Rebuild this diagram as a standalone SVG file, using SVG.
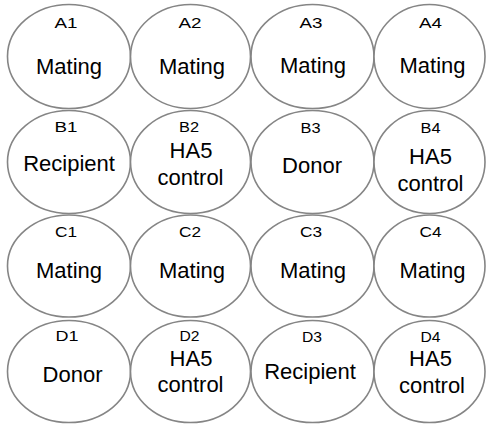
<svg xmlns="http://www.w3.org/2000/svg" width="486" height="424" viewBox="0 0 486 424">
  <style>
    .well { fill: #ffffff; stroke: #858585; stroke-width: 1.6; }
    .id { font-family: "Liberation Sans", Arial, sans-serif; font-size: 14px; fill: #000000; text-anchor: middle; }
    .lbl { font-family: "Liberation Sans", Arial, sans-serif; font-size: 22px; fill: #000000; text-anchor: middle; }
  </style>
  <rect width="486" height="424" fill="#ffffff"/>

  <!-- Row A -->
  <g id="A1">
    <ellipse class="well" cx="69" cy="56.5" rx="61.5" ry="52"/>
    <text class="id" x="66" y="28" textLength="23" lengthAdjust="spacingAndGlyphs">A1</text>
    <text class="lbl" x="69" y="74">Mating</text>
  </g>
  <g id="A2">
    <ellipse class="well" cx="190.5" cy="56.5" rx="60" ry="52"/>
    <text class="id" x="190" y="28" textLength="23" lengthAdjust="spacingAndGlyphs">A2</text>
    <text class="lbl" x="192" y="74">Mating</text>
  </g>
  <g id="A3">
    <ellipse class="well" cx="312.5" cy="56.5" rx="61.5" ry="52"/>
    <text class="id" x="311" y="28" textLength="23" lengthAdjust="spacingAndGlyphs">A3</text>
    <text class="lbl" x="313" y="73">Mating</text>
  </g>
  <g id="A4">
    <ellipse class="well" cx="429.5" cy="56.5" rx="55.5" ry="52"/>
    <text class="id" x="430.5" y="28" textLength="23" lengthAdjust="spacingAndGlyphs">A4</text>
    <text class="lbl" x="432.5" y="73">Mating</text>
  </g>

  <!-- Row B -->
  <g id="B1">
    <ellipse class="well" cx="69" cy="162" rx="61.5" ry="51.5"/>
    <text class="id" x="66" y="132" textLength="23" lengthAdjust="spacingAndGlyphs">B1</text>
    <text class="lbl" x="69" y="170.5">Recipient</text>
  </g>
  <g id="B2">
    <ellipse class="well" cx="190.5" cy="162" rx="60" ry="51.5"/>
    <text class="id" x="189" y="132" textLength="20" lengthAdjust="spacingAndGlyphs">B2</text>
    <text class="lbl" x="191" y="157.5">HA5</text>
    <text class="lbl" x="190.5" y="185">control</text>
  </g>
  <g id="B3">
    <ellipse class="well" cx="312.5" cy="162" rx="61.5" ry="51.5"/>
    <text class="id" x="310.5" y="133" textLength="20" lengthAdjust="spacingAndGlyphs">B3</text>
    <text class="lbl" x="312" y="172.5">Donor</text>
  </g>
  <g id="B4">
    <ellipse class="well" cx="429.5" cy="162" rx="55.5" ry="51.5"/>
    <text class="id" x="430.5" y="133" textLength="20" lengthAdjust="spacingAndGlyphs">B4</text>
    <text class="lbl" x="430.5" y="163.5">HA5</text>
    <text class="lbl" x="430.5" y="190.5">control</text>
  </g>

  <!-- Row C -->
  <g id="C1">
    <ellipse class="well" cx="69" cy="266" rx="61.5" ry="51"/>
    <text class="id" x="66" y="236.5" textLength="22" lengthAdjust="spacingAndGlyphs">C1</text>
    <text class="lbl" x="69" y="278">Mating</text>
  </g>
  <g id="C2">
    <ellipse class="well" cx="190.5" cy="266" rx="60" ry="51"/>
    <text class="id" x="190" y="236.5" textLength="22" lengthAdjust="spacingAndGlyphs">C2</text>
    <text class="lbl" x="192" y="278">Mating</text>
  </g>
  <g id="C3">
    <ellipse class="well" cx="312.5" cy="266" rx="61.5" ry="51"/>
    <text class="id" x="311" y="236.5" textLength="22" lengthAdjust="spacingAndGlyphs">C3</text>
    <text class="lbl" x="313" y="278">Mating</text>
  </g>
  <g id="C4">
    <ellipse class="well" cx="429.5" cy="266" rx="55.5" ry="51"/>
    <text class="id" x="430.5" y="236.5" textLength="22" lengthAdjust="spacingAndGlyphs">C4</text>
    <text class="lbl" x="432.5" y="278">Mating</text>
  </g>

  <!-- Row D -->
  <g id="D1">
    <ellipse class="well" cx="69" cy="371.5" rx="61.5" ry="51"/>
    <text class="id" x="67" y="341" textLength="23" lengthAdjust="spacingAndGlyphs">D1</text>
    <text class="lbl" x="72.5" y="381.5">Donor</text>
  </g>
  <g id="D2">
    <ellipse class="well" cx="190.5" cy="371.5" rx="60" ry="51"/>
    <text class="id" x="189.5" y="341" textLength="20" lengthAdjust="spacingAndGlyphs">D2</text>
    <text class="lbl" x="191" y="365.5">HA5</text>
    <text class="lbl" x="190.5" y="392">control</text>
  </g>
  <g id="D3">
    <ellipse class="well" cx="312.5" cy="371.5" rx="61.5" ry="51"/>
    <text class="id" x="312" y="342" textLength="20" lengthAdjust="spacingAndGlyphs">D3</text>
    <text class="lbl" x="310" y="379">Recipient</text>
  </g>
  <g id="D4">
    <ellipse class="well" cx="429.5" cy="371.5" rx="55.5" ry="51"/>
    <text class="id" x="430.5" y="342" textLength="20" lengthAdjust="spacingAndGlyphs">D4</text>
    <text class="lbl" x="430.5" y="366">HA5</text>
    <text class="lbl" x="432" y="393">control</text>
  </g>
</svg>
